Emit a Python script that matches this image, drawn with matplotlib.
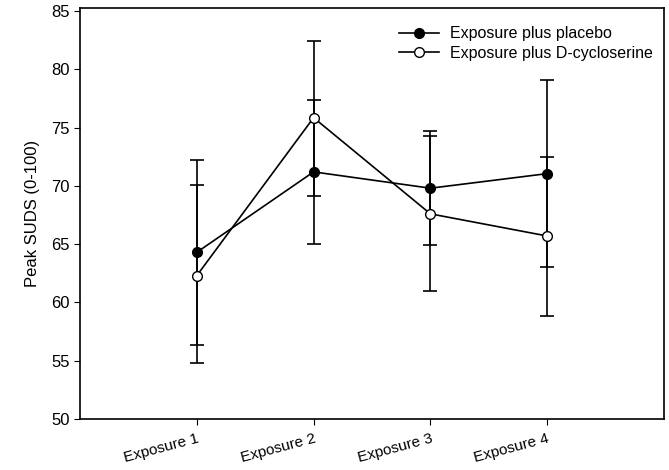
import matplotlib
matplotlib.use("Agg")
import matplotlib.pyplot as plt
import numpy as np

plt.rcParams['font.family'] = ['Liberation Sans', 'DejaVu Sans']

exposures = ["Exposure 1", "Exposure 2", "Exposure 3", "Exposure 4"]
placebo_mean = [64.3, 71.2, 69.8, 71.05]
placebo_err = [7.95, 6.2, 4.9, 8.0]
dcs_mean = [62.3, 75.85, 67.6, 65.7]
dcs_lo = [7.5, 6.75, 6.6, 6.9]
dcs_hi = [7.75, 6.55, 6.7, 6.8]

x = np.arange(1, len(exposures) + 1)

fig = plt.figure(figsize=(6.69, 4.70), dpi=100)
ax = fig.add_axes([0.1196, 0.1085, 0.8729, 0.8755])

ax.errorbar(x, placebo_mean, yerr=placebo_err, color="black", lw=1.2,
            marker="o", ms=7, mfc="black", mec="black", capsize=5,
            elinewidth=1.2, capthick=1.2, label="Exposure plus placebo", zorder=3)
ax.errorbar(x, dcs_mean, yerr=[dcs_lo, dcs_hi], color="black", lw=1.2,
            marker="o", ms=7, mfc="white", mec="black", capsize=5,
            elinewidth=1.2, capthick=1.2, label="Exposure plus D-cycloserine", zorder=4)

ax.set_xlim(0, 5)
ax.set_ylim(50, 85.3)
ax.set_yticks(np.arange(50, 86, 5))
ax.set_xticks(x)
ax.set_xticklabels(exposures, rotation=15, ha="right", rotation_mode="anchor", fontsize=11)
ax.tick_params(axis="y", labelsize=12, direction="out", length=4)
ax.tick_params(axis="x", direction="out", length=4, pad=5)
ax.set_ylabel("Peak SUDS (0-100)", fontsize=12, labelpad=8)

for s in ax.spines.values():
    s.set_linewidth(1.2)

handles, labels = ax.get_legend_handles_labels()
handles = [h[0] for h in handles]
ax.legend(handles, labels, loc="upper right", frameon=False, fontsize=11.5,
          handlelength=2.5, handletextpad=0.7, borderaxespad=0.0,
          bbox_to_anchor=(0.992, 0.97), labelspacing=0.3)

fig.savefig("out.png", dpi=100)
